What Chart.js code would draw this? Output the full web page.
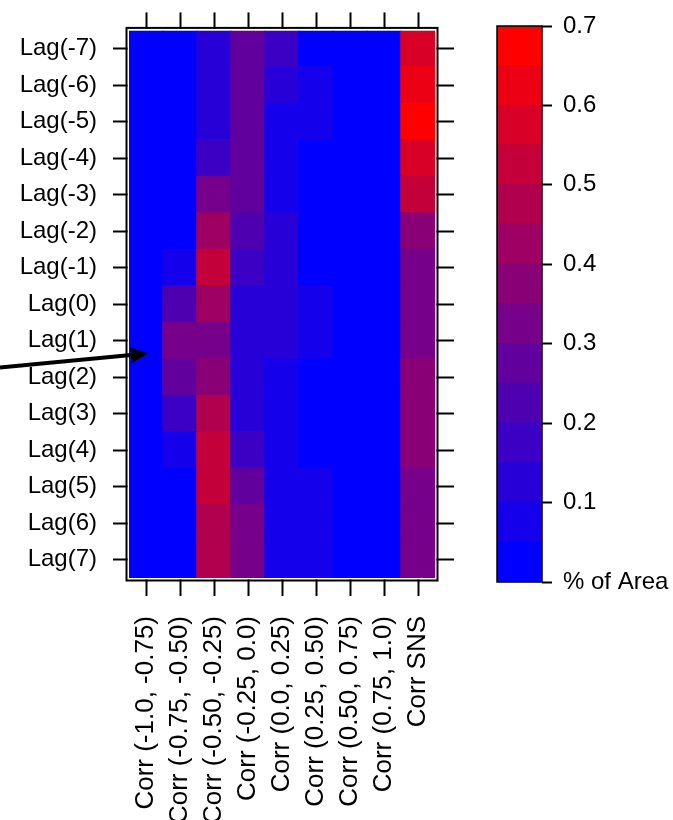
<!DOCTYPE html>
<html>
<head>
<meta charset="utf-8">
<script src="https://cdn.jsdelivr.net/npm/chart.js@4.4.0/dist/chart.umd.min.js"></script>
<style>
  html, body { margin: 0; padding: 0; background: #fff; overflow: hidden; }
  #wrap { position: relative; width: 673px; height: 820px; }
  #heat { position: absolute; left: 0; top: 0; }
  #key { position: absolute; left: 480px; top: 0; }
</style>
</head>
<body>
<div id="wrap">
  <canvas id="heat" width="480" height="820"></canvas>
  <canvas id="key" width="193" height="820"></canvas>
</div>
<script>
const lagLabels = ['Lag(-7)', 'Lag(-6)', 'Lag(-5)', 'Lag(-4)', 'Lag(-3)', 'Lag(-2)', 'Lag(-1)', 'Lag(0)',
  'Lag(1)', 'Lag(2)', 'Lag(3)', 'Lag(4)', 'Lag(5)', 'Lag(6)', 'Lag(7)'];
const corrLabels = ['Corr (-1.0, -0.75)', 'Corr (-0.75, -0.50)', 'Corr (-0.50, -0.25)', 'Corr (-0.25, 0.0)',
  'Corr (0.0, 0.25)', 'Corr (0.25, 0.50)', 'Corr (0.50, 0.75)', 'Corr (0.75, 1.0)', 'Corr SNS'];

// % of area per lag, Lag(-7) .. Lag(7), one list per correlation class
const areaNeg100to075 = [0.01, 0.01, 0.01, 0.01, 0.01, 0.01, 0.02, 0.02, 0.03, 0.02, 0.02, 0.01, 0.01, 0.01, 0.01];
const areaNeg075to050 = [0.01, 0.01, 0.01, 0.01, 0.01, 0.02, 0.08, 0.22, 0.32, 0.28, 0.17, 0.07, 0.03, 0.02, 0.02];
const areaNeg050to025 = [0.12, 0.13, 0.12, 0.17, 0.33, 0.42, 0.52, 0.43, 0.32, 0.38, 0.47, 0.53, 0.52, 0.48, 0.47];
const areaNeg025to000 = [0.27, 0.28, 0.27, 0.28, 0.27, 0.22, 0.17, 0.12, 0.11, 0.12, 0.12, 0.16, 0.27, 0.32, 0.33];
const areaPos000to025 = [0.16, 0.11, 0.08, 0.07, 0.07, 0.11, 0.12, 0.12, 0.11, 0.08, 0.07, 0.07, 0.06, 0.07, 0.07];
const areaPos025to050 = [0.04, 0.07, 0.06, 0.04, 0.03, 0.03, 0.04, 0.06, 0.06, 0.04, 0.04, 0.04, 0.06, 0.06, 0.06];
const areaPos050to075 = [0.01, 0.02, 0.02, 0.02, 0.01, 0.01, 0.01, 0.02, 0.02, 0.02, 0.02, 0.02, 0.02, 0.02, 0.02];
const areaPos075to100 = [0.01, 0.01, 0.01, 0.01, 0.01, 0.01, 0.01, 0.01, 0.01, 0.01, 0.01, 0.01, 0.01, 0.01, 0.01];
const areaSNS         = [0.57, 0.62, 0.68, 0.57, 0.52, 0.37, 0.33, 0.32, 0.33, 0.37, 0.38, 0.37, 0.32, 0.33, 0.32];

const keyBreaks = [0, 0.05, 0.1, 0.15, 0.2, 0.25, 0.3, 0.35, 0.4, 0.45, 0.5, 0.55, 0.6, 0.65, 0.7];
const keyTicks = [0, 0.1, 0.2, 0.3, 0.4, 0.5, 0.6, 0.7];

const columns = [areaNeg100to075, areaNeg075to050, areaNeg050to025, areaNeg025to000,
  areaPos000to025, areaPos025to050, areaPos050to075, areaPos075to100, areaSNS];

Chart.defaults.font.family = '"Liberation Sans", Arial, sans-serif';
Chart.defaults.color = '#000';

// blue -> red, one colour per band of the key
function bandColor(i) {
  const t = i / (keyBreaks.length - 2);
  return `rgb(${Math.round(255 * t)},0,${Math.round(255 * (1 - t))})`;
}
function colorFor(v) {
  let i = 0;
  while (i < keyBreaks.length - 2 && v >= keyBreaks[i + 1]) i++;
  return bandColor(i);
}

const rowsUp = lagLabels.map((_, i) => lagLabels.length - 1 - i); // bottom row first
const heatSets = rowsUp.map(r => ({
  label: lagLabels[r],
  data: columns.map(() => 1),
  backgroundColor: columns.map(col => colorFor(col[r])),
  borderWidth: 0,
  inflateAmount: 0.8,
  barPercentage: 1,
  categoryPercentage: 1,
}));

const rowTicks = s => { s.ticks = lagLabels.map((_, i) => ({ value: i + 0.5 })); };
const tickGrid = len => ({ drawOnChartArea: false, offset: false, tickLength: len, tickWidth: 2, tickColor: '#000' });

const panelBox = {
  id: 'panelBox',
  afterDraw(chart) {
    const { ctx, chartArea: a } = chart;
    ctx.save();
    // white gap then black frame, like the lattice panel
    ctx.strokeStyle = '#fff';
    ctx.lineWidth = 1.5;
    ctx.strokeRect(a.left - 0.75, a.top - 0.75, a.right - a.left + 1.5, a.bottom - a.top + 1.5);
    ctx.strokeStyle = '#000';
    ctx.lineWidth = 2;
    ctx.strokeRect(a.left - 2.5, a.top - 2.5, a.right - a.left + 5, a.bottom - a.top + 5);

    // arrow pointing at Lag(1) of Corr (-0.75, -0.50)
    const tipX = chart.scales.x.getPixelForValue(0) + 2;
    const tipY = chart.scales.y.getPixelForValue(6.15);
    const tailX = 0, tailY = tipY + 14;
    const ang = Math.atan2(tipY - tailY, tipX - tailX);
    const head = 17, half = 8;
    const bx = tipX - head * Math.cos(ang), by = tipY - head * Math.sin(ang);
    ctx.lineWidth = 4;
    ctx.beginPath();
    ctx.moveTo(tailX, tailY);
    ctx.lineTo(bx, by);
    ctx.stroke();
    ctx.fillStyle = '#000';
    ctx.beginPath();
    ctx.moveTo(tipX, tipY);
    ctx.lineTo(bx + half * Math.sin(ang), by - half * Math.cos(ang));
    ctx.lineTo(bx - half * Math.sin(ang), by + half * Math.cos(ang));
    ctx.closePath();
    ctx.fill();
    ctx.restore();
  }
};

new Chart(document.getElementById('heat'), {
  type: 'bar',
  data: { labels: corrLabels, datasets: heatSets },
  options: {
    responsive: false,
    animation: false,
    layout: { padding: 0 },
    plugins: { legend: { display: false }, tooltip: { enabled: false } },
    scales: {
      x: {
        stacked: true,
        grid: tickGrid(18),
        border: { display: false },
        ticks: { autoSkip: false, minRotation: 90, maxRotation: 90, padding: 20, font: { size: 26 } },
        afterFit: s => { s.height = 242; },
      },
      x2: {
        type: 'category', labels: corrLabels, position: 'top', offset: true,
        grid: tickGrid(18), border: { display: false },
        ticks: { display: false },
        afterFit: s => { s.height = 30; },
      },
      y: {
        stacked: true, min: 0, max: lagLabels.length,
        grid: tickGrid(16), border: { display: false },
        afterBuildTicks: rowTicks,
        ticks: { padding: 16, font: { size: 24 }, callback: v => lagLabels[lagLabels.length - 1 - Math.floor(v)] },
        afterFit: s => { s.width = 129; },
      },
      y2: {
        type: 'linear', position: 'right', min: 0, max: lagLabels.length,
        grid: tickGrid(19), border: { display: false },
        afterBuildTicks: rowTicks,
        ticks: { display: false },
        afterFit: s => { s.width = 45; },
      },
    },
  },
  plugins: [panelBox],
});

const keyBox = {
  id: 'keyBox',
  afterDraw(chart) {
    const { ctx, chartArea: a } = chart;
    ctx.save();
    ctx.strokeStyle = '#000';
    ctx.lineWidth = 1.5;
    ctx.strokeRect(a.left, a.top, a.right - a.left, a.bottom - a.top);
    ctx.restore();
  }
};

new Chart(document.getElementById('key'), {
  type: 'bar',
  data: {
    labels: ['key'],
    datasets: keyBreaks.slice(0, -1).map((b, i) => ({
      data: [[b, keyBreaks[i + 1]]],
      backgroundColor: bandColor(i),
      borderWidth: 0,
      inflateAmount: 0.8,
      barPercentage: 1,
      categoryPercentage: 1,
    })),
  },
  options: {
    responsive: false,
    animation: false,
    layout: { padding: { left: 17, top: 26, bottom: 238, right: 0 } },
    plugins: { legend: { display: false }, tooltip: { enabled: false } },
    scales: {
      x: { stacked: true, display: false },
      y: {
        position: 'right', min: 0, max: 0.7,
        grid: { drawOnChartArea: false, tickLength: 10, tickWidth: 2, tickColor: '#000' },
        border: { display: false },
        afterBuildTicks: s => { s.ticks = keyTicks.map(v => ({ value: v })); },
        ticks: { padding: 11, font: { size: 24 }, callback: v => (v === 0 ? '% of Area' : v.toFixed(1)) },
        afterFit: s => { s.width = 131; },
      },
    },
  },
  plugins: [keyBox],
});
</script>
</body>
</html>
